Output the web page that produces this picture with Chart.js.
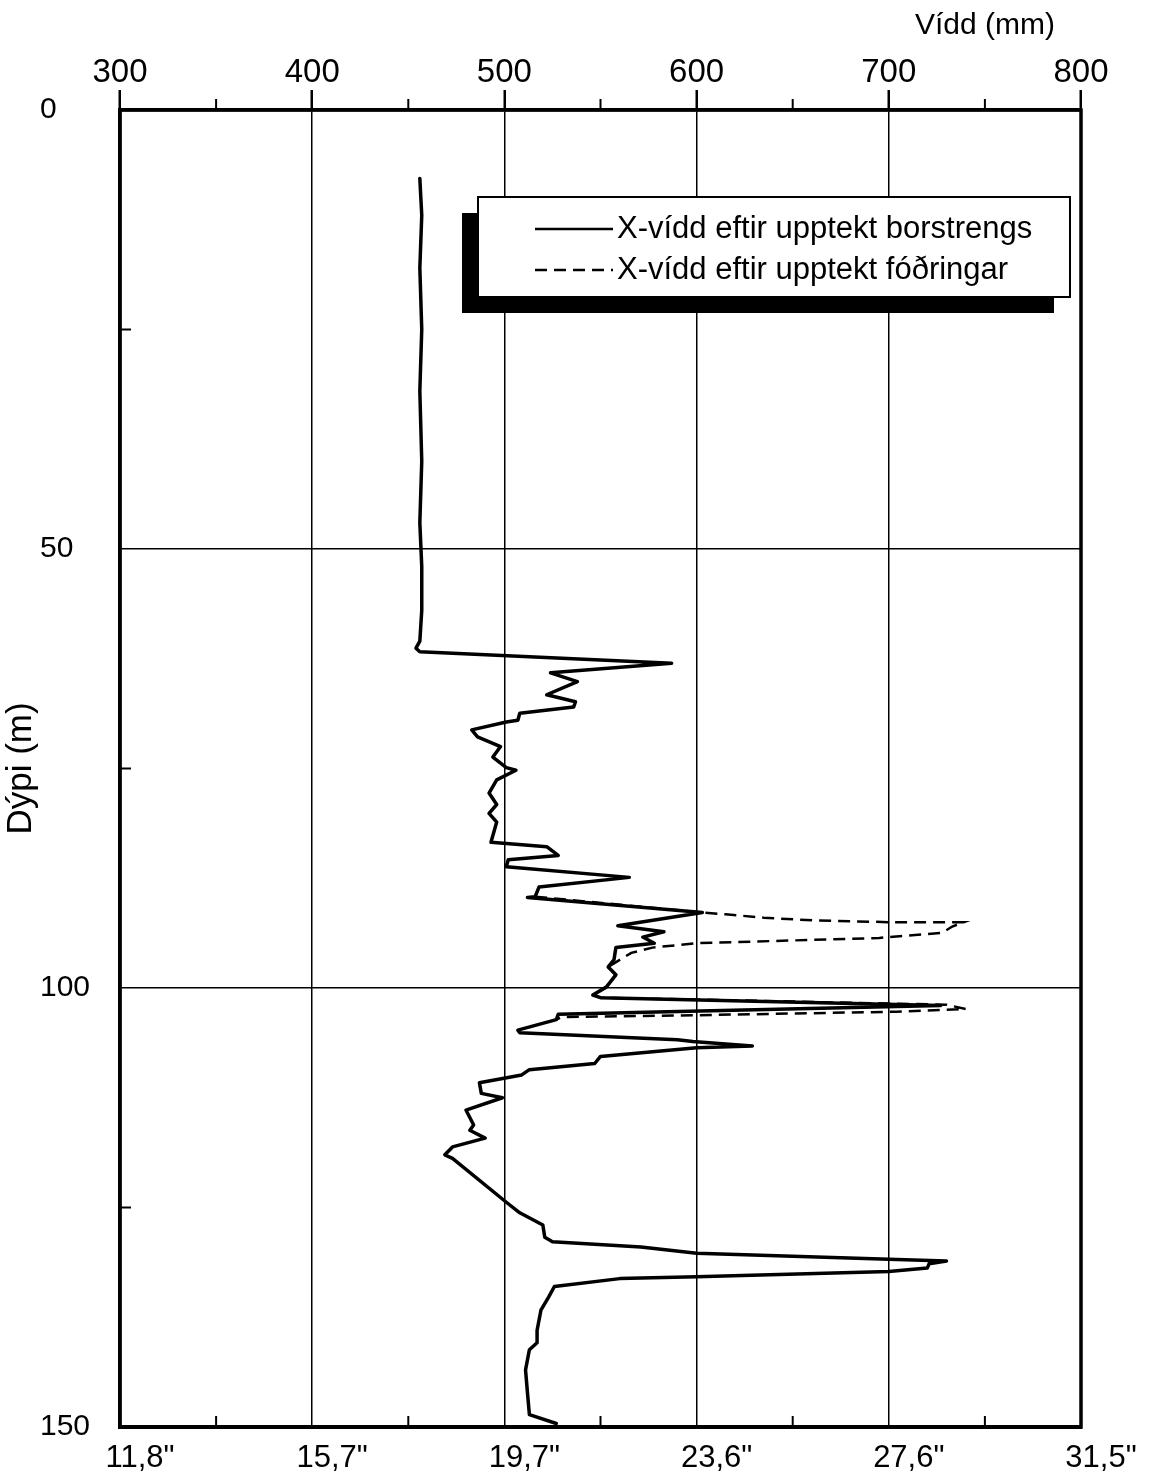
<!DOCTYPE html>
<html>
<head>
<meta charset="utf-8">
<script src="https://cdn.jsdelivr.net/npm/chart.js@4/dist/chart.umd.min.js"></script>
<style>
  body { margin: 0; background: #fff; }
  canvas { display: block; }
</style>
</head>
<body>
<canvas id="chart" width="1149" height="1479"></canvas>
<script>
const depthSolid = [
  7.8, 12, 18, 25, 32, 40, 47, 52, 57, 60.5, 61.3, 61.7,
  63.0, 64.1, 65.1, 66.6, 67.4, 68.0, 68.7, 69.5, 69.7, 70.6, 71.4, 72.5,
  73.7, 74.9, 75.2, 76.3, 77.8, 79.1, 80.1, 81.1, 83.4, 83.9, 84.9, 85.4,
  86.2, 87.4, 88.5, 89.6, 89.7, 91.4, 92.9, 93.6, 94.2, 94.9, 95.4, 96.8,
  97.6, 98.5, 99.9, 100.8, 101.1, 102.0, 103.0, 103.6, 104.8, 105.1, 105.9, 106.1,
  106.6, 106.8, 107.8, 108.6, 109.3, 109.9, 110.8, 112.0, 112.5, 113.9, 115.6, 116.2,
  117.1, 118.1, 119.0, 119.4, 124.4, 125.6, 127.0, 128.4, 128.9, 129.5, 130.2, 130.9,
  131.1, 131.4, 131.9, 132.3, 132.9, 133.1, 134.0, 135.2, 136.7, 139.0, 140.4, 141.2,
  143.5, 146.1, 148.6, 149.6
];
const widthSolid = [
  456, 457, 456, 457, 456, 457, 456, 457, 457, 456, 454, 456,
  587, 524, 538, 522, 537, 536, 508, 507, 501, 483, 486, 498,
  494, 501, 506, 496, 492, 496, 492, 496, 493, 522, 528, 502,
  501, 565, 518, 516, 512, 603, 559, 583, 572, 578, 558, 557,
  554, 558, 553, 546, 550, 727, 528, 527, 507, 508, 590, 598,
  629, 600, 550, 547, 513, 509, 487, 488, 499, 480, 484, 482,
  490, 473, 469, 473, 501, 508, 520, 521, 525, 571, 600, 700,
  730, 721, 720, 700, 600, 560, 526, 523, 519, 517, 517, 513,
  511, 512, 513, 527
];
const depthDashed = [
  89.6, 91.4, 91.6, 92.0, 92.3, 92.5, 92.5, 93.0, 93.7, 94.3, 94.9, 95.4,
  96.0, 96.8, 97.6, 98.5, 99.9, 100.8, 101.1, 101.9, 102.4, 102.7, 103.1, 103.3,
  103.6
];
const widthDashed = [
  516, 603, 615, 635, 661, 700, 739, 733, 728, 695, 600, 577,
  566, 560, 554, 558, 553, 546, 550, 730, 740, 704, 600, 530,
  527
];
const mmTicks = [300, 400, 500, 600, 700, 800];
const inchLabels = ['11,8"', '15,7"', '19,7"', '23,6"', '27,6"', '31,5"'];
const minorMm = [350, 450, 550, 650, 750];
const minorDepth = [25, 75, 125];

const FONT = '"Liberation Sans", Arial, sans-serif';

const toPoints = (depths, widths) =>
  depths.map((d, i) => ({ x: widths[i], y: d }));

function line(ctx, x1, y1, x2, y2) {
  ctx.beginPath();
  ctx.moveTo(x1, y1);
  ctx.lineTo(x2, y2);
  ctx.stroke();
}

const decorPlugin = {
  id: "decor",
  afterDraw(chart) {
    const { ctx, chartArea: a, scales } = chart;
    ctx.save();
    ctx.strokeStyle = "#000";
    ctx.fillStyle = "#000";

    // frame
    ctx.lineWidth = 3.5;
    ctx.strokeRect(a.left, a.top, a.right - a.left, a.bottom - a.top);

    // minor ticks
    ctx.lineWidth = 2;
    minorMm.forEach((v) => {
      const x = scales.x.getPixelForValue(v);
      line(ctx, x, a.top, x, a.top - 11);
      line(ctx, x, a.bottom, x, a.bottom - 11);
    });
    minorDepth.forEach((v) => {
      const y = scales.y.getPixelForValue(v);
      line(ctx, a.left, y, a.left + 11, y);
    });

    // axis title top right
    ctx.font = "30px " + FONT;
    ctx.textAlign = "right";
    ctx.textBaseline = "middle";
    ctx.fillText("Vídd (mm)", a.right - 26, 26);

    // legend with drop shadow
    const lx = a.left + 358;
    const ly = a.top + 87;
    const lw = 592;
    const lh = 100;
    ctx.fillRect(lx - 16, ly + 16, lw, lh);
    ctx.fillStyle = "#fff";
    ctx.fillRect(lx, ly, lw, lh);
    ctx.lineWidth = 2;
    ctx.strokeRect(lx, ly, lw, lh);
    ctx.fillStyle = "#000";
    ctx.textAlign = "left";
    ctx.font = "31px " + FONT;
    chart.data.datasets.forEach((ds, i) => {
      const y = ly + 32 + i * 41;
      ctx.lineWidth = 2.5;
      ctx.setLineDash(ds.borderDash || []);
      line(ctx, lx + 57, y, lx + 135, y);
      ctx.setLineDash([]);
      ctx.fillText(ds.label, lx + 139, y);
    });
    ctx.restore();
  },
};

new Chart(document.getElementById("chart"), {
  type: "scatter",
  data: {
    datasets: [
      {
        label: "X-vídd eftir upptekt borstrengs",
        data: toPoints(depthSolid, widthSolid),
        showLine: true,
        borderColor: "#000",
        borderWidth: 3.5,
        borderJoinStyle: "round",
        borderCapStyle: "round",
        pointRadius: 0,
      },
      {
        label: "X-vídd eftir upptekt fóðringar",
        data: toPoints(depthDashed, widthDashed),
        showLine: true,
        borderColor: "#000",
        borderWidth: 2.5,
        borderDash: [12, 7],
        pointRadius: 0,
      },
    ],
  },
  options: {
    responsive: false,
    animation: false,
    devicePixelRatio: 1,
    layout: { padding: { left: 40, right: 68, top: 0, bottom: 0 } },
    plugins: {
      legend: { display: false },
      tooltip: { enabled: false },
    },
    scales: {
      x: {
        type: "linear",
        position: "top",
        min: 300,
        max: 800,
        afterBuildTicks: (scale) => {
          scale.ticks = mmTicks.map((v) => ({ value: v }));
        },
        ticks: {
          color: "#000",
          font: { family: FONT, size: 33 },
          padding: -3,
          maxRotation: 0,
        },
        grid: {
          color: (c) =>
            c.tick && (c.tick.value === 300 || c.tick.value === 800)
              ? "rgba(0,0,0,0)"
              : "#000",
          lineWidth: 1.5,
          tickColor: "#000",
          tickWidth: 2.5,
          tickLength: 20,
        },
        border: { display: true, color: "#000", width: 3.5 },
        afterFit: (scale) => {
          scale.height = 110;
          scale.paddingLeft = 0;
          scale.paddingRight = 0;
        },
      },
      x2: {
        type: "linear",
        position: "bottom",
        min: 300,
        max: 800,
        afterBuildTicks: (scale) => {
          scale.ticks = mmTicks.map((v) => ({ value: v }));
        },
        ticks: {
          color: "#000",
          font: { family: FONT, size: 31 },
          padding: 13,
          labelOffset: 20,
          maxRotation: 0,
          callback: (v) => inchLabels[mmTicks.indexOf(v)],
        },
        grid: { drawOnChartArea: false, drawTicks: false },
        border: { display: true, color: "#000", width: 4 },
        afterFit: (scale) => {
          scale.height = 52;
          scale.paddingLeft = 0;
          scale.paddingRight = 0;
        },
      },
      y: {
        type: "linear",
        reverse: true,
        min: 0,
        max: 150,
        ticks: {
          stepSize: 25,
          color: "#000",
          font: { family: FONT, size: 30 },
          padding: 0,
          crossAlign: "far",
          callback: (v) => (v % 50 === 0 ? String(v) : ""),
        },
        grid: {
          color: (c) =>
            c.tick && (c.tick.value === 50 || c.tick.value === 100)
              ? "#000"
              : "rgba(0,0,0,0)",
          lineWidth: 1.5,
          drawTicks: false,
        },
        border: { display: true, color: "#000", width: 3.5 },
        title: {
          display: true,
          text: "Dýpi (m)",
          color: "#000",
          font: { family: FONT, size: 35 },
          padding: { top: -40, bottom: 0 },
        },
        afterFit: (scale) => {
          scale.width = 80;
          scale.paddingTop = 0;
          scale.paddingBottom = 0;
        },
      },
    },
  },
  plugins: [decorPlugin],
});
</script>
</body>
</html>
